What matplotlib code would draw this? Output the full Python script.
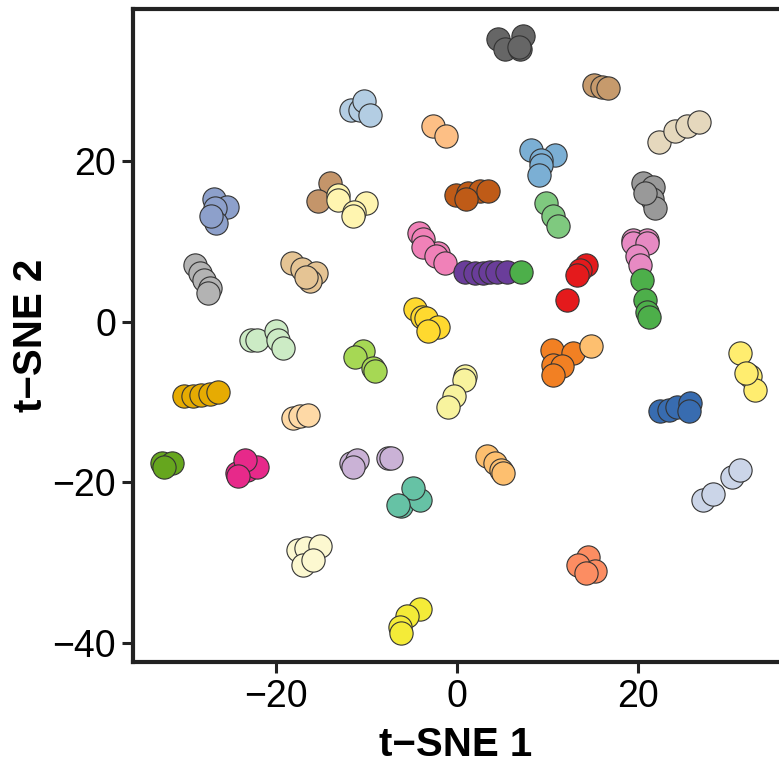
import matplotlib
matplotlib.use("Agg")
import matplotlib.pyplot as plt

plt.rcParams['font.family'] = ['Liberation Sans', 'DejaVu Sans']

# cluster colours (one per cluster)
cluster_colors = {
    "c01": "#b3cde3", "c02": "#8da0cb", "c03": "#c4956a", "c04": "#fff5b0",
    "c05": "#666666", "c06": "#c69a6c", "c07": "#e5d8bd", "c08": "#fdbf85",
    "c09": "#7bafd4", "c10": "#bf5b17", "c11": "#7fc97f", "c12": "#999999",
    "c13": "#e78ac3", "c14": "#f081b8", "c15": "#b3b3b3", "c16": "#e5c494",
    "c17": "#ccebc5", "c18": "#a6d854", "c19": "#e6ab02", "c20": "#fed9a6",
    "c21": "#66a61e", "c22": "#e7298a", "c23": "#cab2d6", "c24": "#6a3d9a",
    "c25": "#4daf4a", "c26": "#e41a1c", "c27": "#ffd92f", "c28": "#f28023",
    "c29": "#fdbf6f", "c30": "#ffed6f", "c31": "#386cb0", "c32": "#f8f39e",
    "c33": "#cbd5e8", "c34": "#66c2a5", "c35": "#fc8d62", "c36": "#f4eb38",
    "c37": "#fcf8d0",
}

# per-cluster t-SNE coordinates
tsne1 = {
    "c01": [-11.7, -10.8, -10.3, -9.7],
    "c02": [-26.9, -25.5, -26.8, -26.7, -27.2],
    "c03": [-14.1, -15.4],
    "c04": [-13.2, -13.2, -10.1, -11.4, -11.5],
    "c05": [4.5, 5.3, 7.3, 6.9, 6.8],
    "c06": [15.1, 16.0, 16.7],
    "c07": [22.3, 24.1, 25.4, 26.7],
    "c08": [-2.7, -1.2],
    "c09": [8.2, 10.8, 9.3, 9.3, 9.0],
    "c10": [-0.1, 1.2, 2.5, 3.4, 1.0],
    "c11": [9.8, 10.6, 11.2],
    "c12": [20.6, 21.7, 21.5, 21.9, 20.8],
    "c13": [19.5, 21.0, 19.9, 19.5, 21.0, 19.9, 20.2],
    "c14": [-4.2, -3.8, -2.1, -3.8, -2.3, -1.4],
    "c15": [-29.0, -28.5, -28.0, -27.4, -27.6],
    "c16": [-18.3, -17.2, -15.6, -16.3, -16.7],
    "c17": [-22.8, -22.2, -20.0, -19.8, -19.3],
    "c18": [-10.4, -11.3, -9.3, -9.1],
    "c19": [-30.2, -29.2, -28.3, -27.4, -26.5],
    "c20": [-18.2, -17.4, -16.5],
    "c21": [-32.6, -31.6, -32.4],
    "c22": [-24.4, -23.3, -22.2, -23.5, -24.3],
    "c23": [-11.7, -11.1, -7.6, -11.5, -7.3],
    "c24": [0.9, 2.0, 2.9, 3.6, 4.4, 5.5],
    "c25": [7.1, 20.4, 20.8, 21.0, 21.2],
    "c26": [14.3, 13.6, 13.2, 12.1],
    "c27": [-4.7, -3.9, -3.4, -2.1, -3.2],
    "c28": [10.5, 12.8, 10.6, 11.6, 10.6],
    "c29": [14.8, 3.3, 4.2, 4.9, 5.1],
    "c30": [31.3, 32.4, 33.0, 32.0],
    "c31": [22.4, 23.4, 24.3, 25.8, 25.6],
    "c32": [0.9, 0.7, -0.4, -1.0],
    "c33": [27.2, 28.3, 30.4, 31.3],
    "c34": [-6.2, -4.1, -4.9, -6.5],
    "c35": [14.5, 13.4, 15.2, 14.3],
    "c36": [-4.1, -5.6, -6.3, -6.2],
    "c37": [-17.6, -16.7, -15.2, -17.1, -15.9],
}
tsne2 = {
    "c01": [26.4, 26.4, 27.4, 25.7],
    "c02": [15.2, 14.3, 14.1, 12.3, 13.1],
    "c03": [17.2, 15.0],
    "c04": [15.8, 15.1, 14.7, 13.7, 13.1],
    "c05": [35.2, 34.0, 35.5, 34.0, 34.2],
    "c06": [29.5, 29.2, 29.1],
    "c07": [22.4, 23.7, 24.4, 24.8],
    "c08": [24.3, 23.1],
    "c09": [21.4, 20.7, 20.1, 19.5, 18.3],
    "c10": [15.8, 16.0, 16.2, 16.2, 15.2],
    "c11": [14.7, 13.1, 11.9],
    "c12": [17.2, 16.8, 15.2, 14.1, 16.0],
    "c13": [10.2, 10.2, 9.3, 9.8, 9.8, 8.1, 7.1],
    "c14": [11.0, 10.3, 8.5, 9.3, 8.1, 7.3],
    "c15": [7.1, 6.0, 5.2, 4.2, 3.5],
    "c16": [7.3, 6.6, 6.0, 5.0, 5.6],
    "c17": [-2.3, -2.3, -1.2, -2.3, -3.3],
    "c18": [-3.7, -4.4, -5.8, -6.2],
    "c19": [-9.3, -9.3, -9.1, -9.0, -8.8],
    "c20": [-12.0, -11.8, -11.7],
    "c21": [-17.6, -17.6, -18.1],
    "c22": [-18.9, -18.5, -18.1, -17.2, -19.3],
    "c23": [-17.6, -17.2, -17.0, -18.1, -17.0],
    "c24": [6.2, 6.1, 6.1, 6.2, 6.2, 6.2],
    "c25": [6.2, 5.2, 2.7, 1.2, 0.6],
    "c26": [7.1, 6.4, 5.8, 2.7],
    "c27": [1.5, 0.6, 0.4, -0.7, -1.2],
    "c28": [-3.5, -3.9, -5.4, -5.5, -6.6],
    "c29": [-3.1, -16.8, -17.6, -18.5, -18.9],
    "c30": [-3.9, -6.8, -8.5, -6.4],
    "c31": [-11.2, -11.0, -10.6, -10.1, -11.2],
    "c32": [-6.8, -7.3, -9.3, -10.6],
    "c33": [-22.2, -21.5, -19.4, -18.5],
    "c34": [-23.0, -22.2, -20.7, -22.8],
    "c35": [-29.3, -30.3, -31.1, -31.3],
    "c36": [-35.8, -36.7, -38.0, -38.8],
    "c37": [-28.4, -28.2, -28.0, -30.3, -29.7],
}

xticks = [-20, 0, 20]
yticks = [-40, -20, 0, 20]

fig = plt.figure(figsize=(7.79, 7.63), dpi=100)
ax = fig.add_axes([0.1703, 0.1324, 1 - 0.1703, 0.988 - 0.1324])

for name, col in cluster_colors.items():
    ax.scatter(tsne1[name], tsne2[name], s=280, c=col, edgecolors="#333333",
               linewidths=0.8, zorder=3)

ax.set_xlim(-35.9, 35.6)
ax.set_ylim(-42.4, 38.9)
ax.set_xticks(xticks)
ax.set_yticks(yticks)
ax.tick_params(axis="both", labelsize=27, length=8, width=2.2, color="#222222",
               pad=4)
for side in ["left", "bottom", "top"]:
    ax.spines[side].set_linewidth(3)
    ax.spines[side].set_color("#222222")
ax.spines["right"].set_visible(False)
ax.set_xlabel("t\u2212SNE 1", fontsize=29, fontweight="bold", labelpad=8)
ax.set_ylabel("t\u2212SNE 2", fontsize=29, fontweight="bold", labelpad=2)

fig.savefig("out.png", dpi=100)
